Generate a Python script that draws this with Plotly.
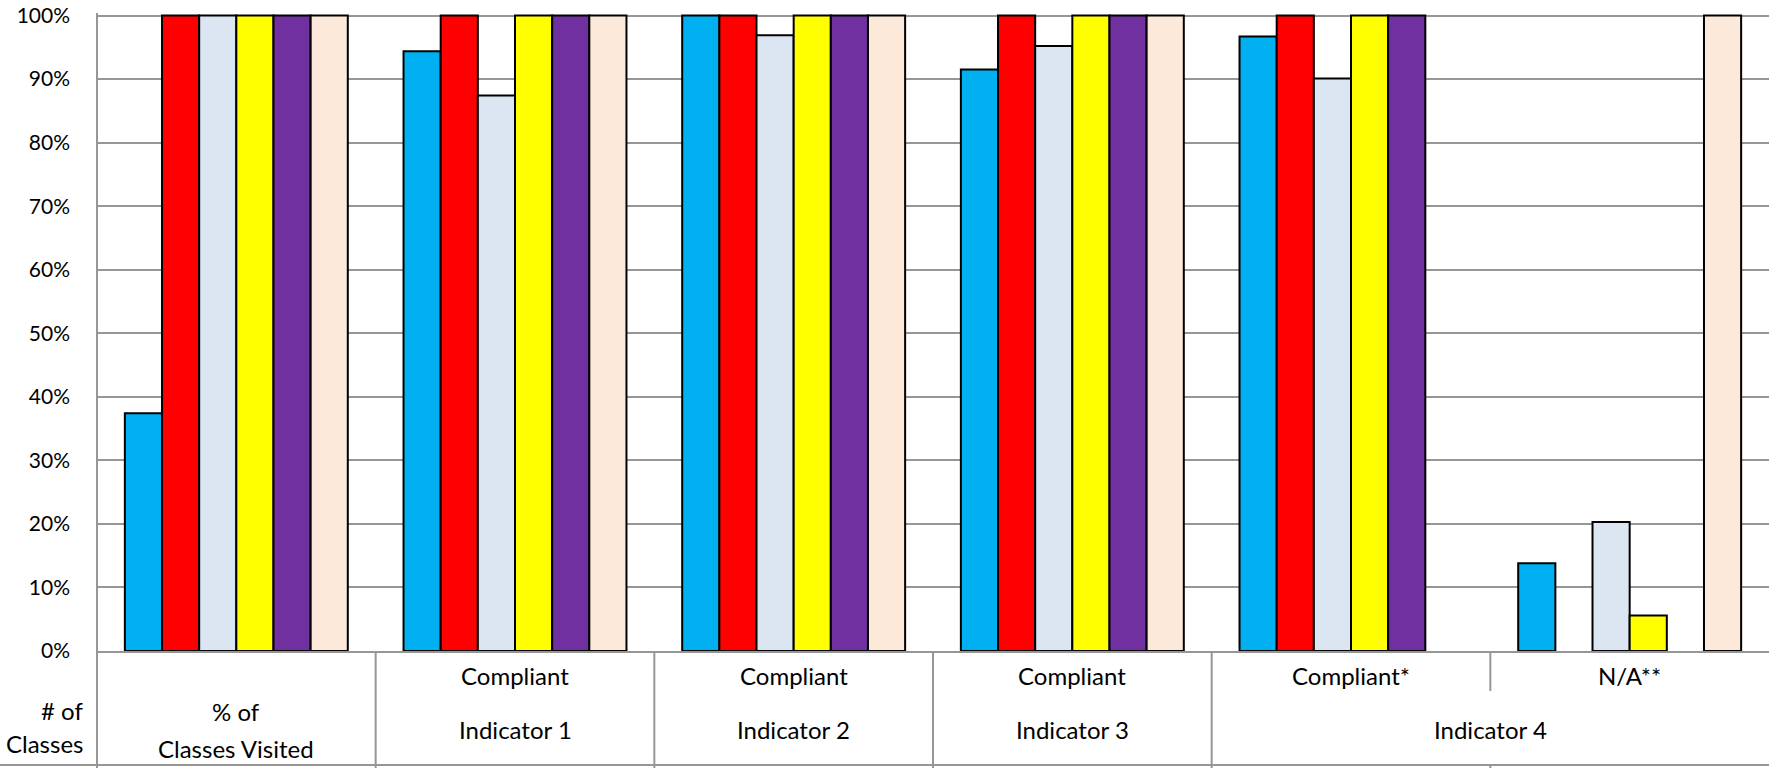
import plotly.graph_objects as go

# Category keys (one per cluster of bars) and the two rows of the label table
categories = [
    "% of Classes Visited",
    "Indicator 1 - Compliant",
    "Indicator 2 - Compliant",
    "Indicator 3 - Compliant",
    "Indicator 4 - Compliant*",
    "Indicator 4 - N/A**",
]
top_row_labels = ["", "Compliant", "Compliant", "Compliant", "Compliant*", "N/A**"]
# bottom row: (label, first category index, last category index)
bottom_row_spans = [
    ("Indicator 1", 1, 1),
    ("Indicator 2", 2, 2),
    ("Indicator 3", 3, 3),
    ("Indicator 4", 4, 5),
]
first_cell_lines = ["% of", "Classes Visited"]
corner_lines = ["# of", "Classes"]

# Percentages per series (None = no bar)
series_names = ["Series 1", "Series 2", "Series 3", "Series 4", "Series 5", "Series 6"]
series_colors = ["#00B0F0", "#FF0000", "#DCE6F2", "#FFFF00", "#7030A0", "#FDE9D9"]
series_values = [
    [37.4, 94.4, 100, 91.5, 96.7, 13.8],
    [100, 100, 100, 100, 100, None],
    [100, 87.4, 96.9, 95.2, 90.1, 20.3],
    [100, 100, 100, 100, 100, 5.6],
    [100, 100, 100, 100, 100, None],
    [100, 100, 100, 100, None, 100],
]

FONT = "Lato"
TICK_SIZE = 21
TABLE_SIZE = 24
LINE_GRAY = "#969696"

fig = go.Figure()
for name, color, vals in zip(series_names, series_colors, series_values):
    fig.add_trace(go.Bar(
        x=categories, y=vals, name=name,
        marker=dict(color=color, line=dict(color="#000000", width=2)),
    ))

W, H = 1769, 768
m_l, m_r, m_t, m_b = 97, 0, 13, 117
plot_h = H - m_t - m_b


def ypaper(px):
    # convert a pixel row in the figure to paper coordinates
    return (H - m_b - px) / plot_h


n = len(categories)
shapes = []
# left border running through the label table
shapes.append(dict(type="line", xref="paper", yref="paper", x0=0, x1=0,
                   y0=1, y1=ypaper(H), line=dict(color=LINE_GRAY, width=2)))
# bottom edge of the table, across the full width
shapes.append(dict(type="line", xref="paper", yref="paper",
                   x0=-m_l / (W - m_l - m_r), x1=1,
                   y0=ypaper(765), y1=ypaper(765), line=dict(color=LINE_GRAY, width=2)))
# dividers between clusters
for i in range(1, n):
    xp = i / n
    if top_row_labels[i] == "N/A**":
        # only splits the upper row; Indicator 4 spans both cells
        shapes.append(dict(type="line", xref="paper", yref="paper", x0=xp, x1=xp,
                           y0=0, y1=ypaper(691), line=dict(color=LINE_GRAY, width=2)))
        shapes.append(dict(type="line", xref="paper", yref="paper", x0=xp, x1=xp,
                           y0=ypaper(765), y1=ypaper(H), line=dict(color=LINE_GRAY, width=2)))
    else:
        shapes.append(dict(type="line", xref="paper", yref="paper", x0=xp, x1=xp,
                           y0=0, y1=ypaper(H), line=dict(color=LINE_GRAY, width=2)))

annotations = []
txt = dict(showarrow=False, xref="paper", yref="paper", yanchor="middle",
           font=dict(family=FONT, size=TABLE_SIZE, color="#000000"))
for i, lab in enumerate(top_row_labels):
    if lab:
        annotations.append(dict(txt, x=(i + 0.5) / n, y=ypaper(675), text=lab, xanchor="center"))
for lab, a, b in bottom_row_spans:
    annotations.append(dict(txt, x=(a + b + 1) / 2 / n, y=ypaper(729), text=lab, xanchor="center"))
annotations.append(dict(txt, x=0.5 / n, y=ypaper(711), text=first_cell_lines[0], xanchor="center"))
annotations.append(dict(txt, x=0.5 / n, y=ypaper(748), text=first_cell_lines[1], xanchor="center"))
corner_x = (85 - m_l) / (W - m_l - m_r)
annotations.append(dict(txt, x=corner_x, y=ypaper(710), text=corner_lines[0], xanchor="right"))
annotations.append(dict(txt, x=corner_x, y=ypaper(743), text=corner_lines[1], xanchor="right"))

fig.update_layout(
    width=W, height=H,
    margin=dict(l=m_l, r=m_r, t=m_t, b=m_b, pad=0),
    paper_bgcolor="white", plot_bgcolor="white",
    barmode="group", bargap=0.2, bargroupgap=0,
    showlegend=False,
    font=dict(family=FONT, size=TICK_SIZE, color="#000000"),
    shapes=shapes, annotations=annotations,
    xaxis=dict(type="category", showticklabels=False, showgrid=False,
               showline=True, linecolor=LINE_GRAY, linewidth=2, ticks="",
               zeroline=False, fixedrange=True),
    yaxis=dict(range=[0, 100.4], dtick=10, ticksuffix="%", showgrid=True,
               gridcolor=LINE_GRAY, gridwidth=2, zeroline=False,
               showline=False, ticks="", ticklabelstandoff=26,
               tickfont=dict(family=FONT, size=TICK_SIZE, color="#000000"),
               fixedrange=True),
)

fig.write_html("out.html")
